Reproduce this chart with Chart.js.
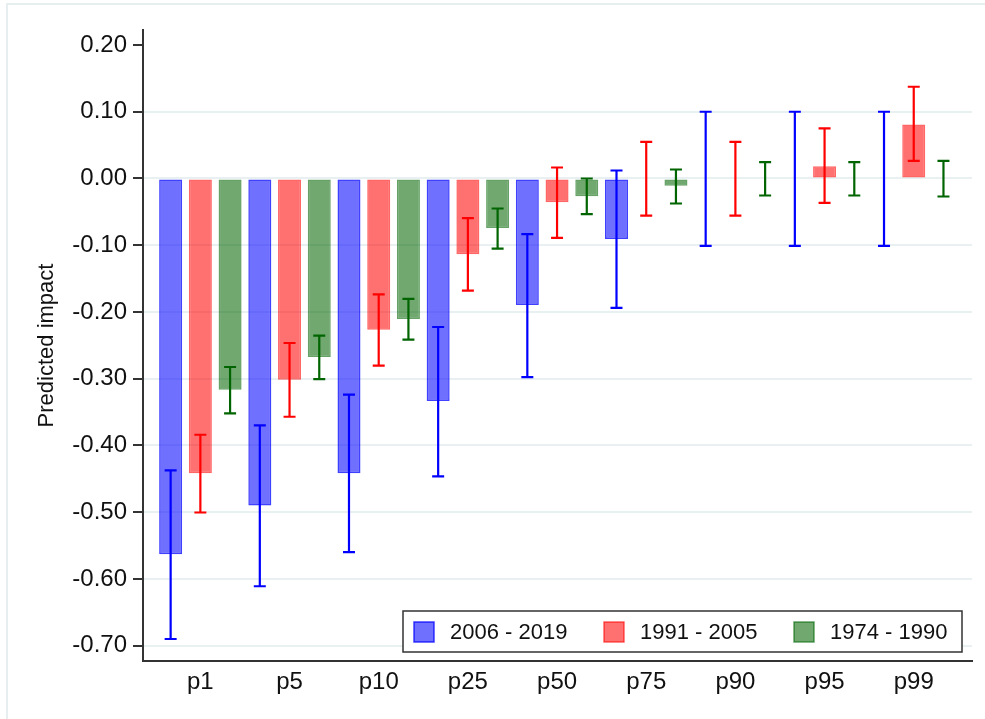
<!DOCTYPE html>
<html>
<head>
<meta charset="utf-8">
<script src="https://cdn.jsdelivr.net/npm/chart.js@4.4.1/dist/chart.umd.min.js"></script>
<style>
  html, body { margin: 0; padding: 0; background: #ffffff; }
  #wrap { width: 985px; height: 719px; position: relative; }
</style>
</head>
<body>
<div id="wrap"><canvas id="c" width="985" height="719"></canvas></div>
<script>
// ---- data ----
const categories = ['p1', 'p5', 'p10', 'p25', 'p50', 'p75', 'p90', 'p95', 'p99'];
const seriesNames = ['2006 - 2019', '1991 - 2005', '1974 - 1990'];

const s2006   = [-0.563, -0.490, -0.4415, -0.3335, -0.1895, -0.0905, 0, 0, 0];
const s2006Lo = [-0.690, -0.611, -0.560, -0.4465, -0.2975, -0.194, -0.101, -0.101, -0.101];
const s2006Hi = [-0.4375, -0.370, -0.324, -0.2225, -0.0835, 0.012, 0.100, 0.100, 0.100];

const s1991   = [-0.4415, -0.3015, -0.2265, -0.1135, -0.0355, 0, 0, 0.0185, 0.081];
const s1991Lo = [-0.5005, -0.357, -0.2805, -0.168, -0.089, -0.0555, -0.0555, -0.0365, 0.0265];
const s1991Hi = [-0.384, -0.2465, -0.1735, -0.0595, 0.0165, 0.055, 0.055, 0.075, 0.1375];

const s1974   = [-0.3165, -0.2675, -0.2105, -0.074, -0.0265, -0.011, 0, 0, 0];
const s1974Lo = [-0.352, -0.3005, -0.2415, -0.105, -0.0535, -0.0375, -0.0255, -0.0255, -0.027];
const s1974Hi = [-0.2825, -0.2355, -0.1805, -0.045, 0.0, 0.0135, 0.0245, 0.0245, 0.0265];

const yTickValues = [-0.7, -0.6, -0.5, -0.4, -0.3, -0.2, -0.1, 0, 0.1, 0.2];
const yTitle = 'Predicted impact';

// ---- styles ----
const lineColors = ['rgb(0,0,255)', 'rgb(255,0,0)', 'rgb(0,100,0)'];
const fillColors = ['rgba(0,0,255,0.56)', 'rgba(255,0,0,0.56)', 'rgba(0,100,0,0.56)'];
const borderColors = ['rgba(0,0,255,0.75)', 'rgba(255,0,0,0.6)', 'rgba(0,100,0,0.6)'];
const FONT = "'Liberation Sans', Arial, sans-serif";

const seriesVals = [s2006, s1991, s1974];
const seriesLo = [s2006Lo, s1991Lo, s1974Lo];
const seriesHi = [s2006Hi, s1991Hi, s1974Hi];

const isZero = (ctx) => ctx.raw && ctx.raw.y === 0;

const datasets = seriesVals.map((vals, s) => ({
  label: seriesNames[s],
  data: vals.map((v, g) => ({ x: 3 * g + s, y: v, lo: seriesLo[s][g], hi: seriesHi[s][g] })),
  backgroundColor: (ctx) => (isZero(ctx) ? 'rgba(0,0,0,0)' : fillColors[s]),
  borderColor: (ctx) => (isZero(ctx) ? 'rgba(0,0,0,0)' : borderColors[s]),
  borderWidth: (ctx) => (isZero(ctx) ? 0 : 1.5),
  inflateAmount: 0,
  borderSkipped: false,
  grouped: false,
  barThickness: 23,
  errColor: lineColors[s],
  legendFill: fillColors[s],
  legendBorder: borderColors[s]
}));

const frame = {
  id: 'frame',
  beforeDraw(chart) {
    const ctx = chart.ctx;
    ctx.save();
    ctx.fillStyle = '#ffffff';
    ctx.fillRect(0, 0, chart.width, chart.height);
    ctx.strokeStyle = '#e6eef0';
    ctx.lineWidth = 2;
    ctx.beginPath();
    ctx.moveTo(7, chart.height + 2);
    ctx.lineTo(7, 4);
    ctx.lineTo(chart.width + 2, 4);
    ctx.stroke();
    ctx.restore();
  }
};

const errorBars = {
  id: 'errorBars',
  afterDatasetsDraw(chart) {
    const ctx = chart.ctx;
    const xs = chart.scales.x, ys = chart.scales.y;
    ctx.save();
    chart.data.datasets.forEach((ds) => {
      ctx.strokeStyle = ds.errColor;
      ctx.lineWidth = 2.2;
      ds.data.forEach((p) => {
        const x = xs.getPixelForValue(p.x);
        const y1 = ys.getPixelForValue(p.lo);
        const y2 = ys.getPixelForValue(p.hi);
        const cap = 6;
        ctx.beginPath();
        ctx.moveTo(x, y1); ctx.lineTo(x, y2);
        ctx.moveTo(x - cap, y1); ctx.lineTo(x + cap, y1);
        ctx.moveTo(x - cap, y2); ctx.lineTo(x + cap, y2);
        ctx.stroke();
      });
    });
    ctx.restore();
  }
};

const boxLegend = {
  id: 'boxLegend',
  afterDraw(chart) {
    const ctx = chart.ctx;
    const a = chart.chartArea;
    const right = a.right - 10, bottom = a.bottom - 9;
    const w = 559, h = 41;
    const left = right - w, top = bottom - h;
    ctx.save();
    ctx.fillStyle = '#ffffff';
    ctx.fillRect(left, top, w, h);
    ctx.strokeStyle = '#333333';
    ctx.lineWidth = 1.5;
    ctx.strokeRect(left, top, w, h);
    ctx.font = '22px ' + FONT;
    ctx.textBaseline = 'middle';
    ctx.textAlign = 'left';
    chart.data.datasets.forEach((ds, i) => {
      const sx = left + 11 + i * 190;
      const sy = top + 11;
      ctx.fillStyle = ds.legendFill;
      ctx.fillRect(sx, sy, 20, 20);
      ctx.strokeStyle = ds.legendBorder;
      ctx.lineWidth = 1.5;
      ctx.strokeRect(sx, sy, 20, 20);
      ctx.fillStyle = '#111111';
      ctx.fillText(ds.label, sx + 36, top + h / 2 + 1);
    });
    ctx.restore();
  }
};

new Chart(document.getElementById('c'), {
  type: 'bar',
  data: { datasets },
  plugins: [frame, errorBars, boxLegend],
  options: {
    responsive: false,
    animation: false,
    layout: { padding: { left: 0, top: 30, right: 13, bottom: 0 } },
    plugins: { legend: { display: false }, tooltip: { enabled: false } },
    scales: {
      x: {
        type: 'linear',
        min: -0.93,
        max: 26.96,
        offset: false,
        afterFit(scale) { scale.height = 58; },
        afterBuildTicks(scale) {
          scale.ticks = categories.map((c, g) => ({ value: 3 * g + 1 }));
        },
        ticks: {
          autoSkip: false,
          maxRotation: 0,
          padding: 7,
          color: '#111111',
          font: { family: FONT, size: 24 },
          callback: (v) => categories[Math.round((v - 1) / 3)]
        },
        grid: { display: false, drawTicks: false },
        border: { display: true, color: '#333333', width: 2 }
      },
      y: {
        type: 'linear',
        min: -0.723,
        max: 0.2225,
        afterFit(scale) { scale.width = 143; },
        afterBuildTicks(scale) {
          scale.ticks = yTickValues.map((v) => ({ value: v }));
        },
        ticks: {
          padding: 6,
          color: '#111111',
          font: { family: FONT, size: 24 },
          callback: (v) => Number(v).toFixed(2)
        },
        grid: {
          color: (ctx) => (ctx.tick && Math.abs(ctx.tick.value - 0.2) < 1e-9 ? 'rgba(0,0,0,0)' : '#e9f0f1'),
          lineWidth: 2,
          tickColor: '#333333',
          tickLength: 10,
          tickWidth: 2
        },
        border: { display: true, color: '#333333', width: 2 },
        title: {
          display: true,
          text: yTitle,
          color: '#111111',
          font: { family: FONT, size: 22 },
          padding: { top: 34, bottom: 0 }
        }
      }
    }
  }
});
</script>
</body>
</html>
